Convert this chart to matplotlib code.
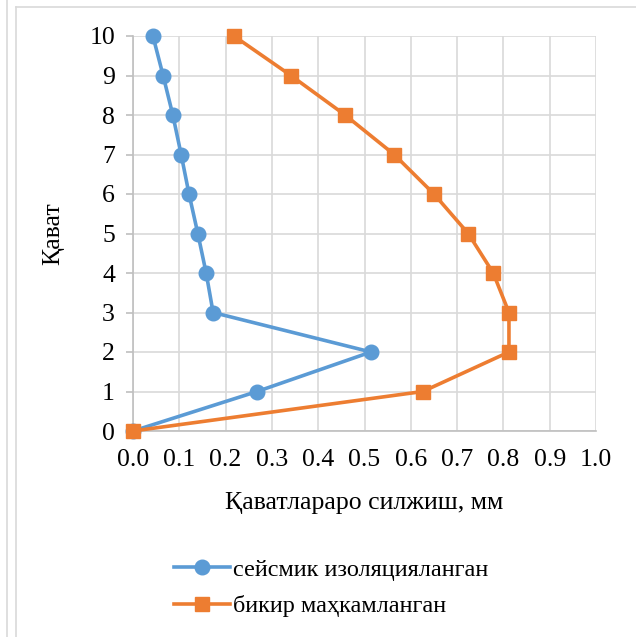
import matplotlib.pyplot as plt
from matplotlib.lines import Line2D

plt.rcParams['font.family'] = ['Liberation Serif', 'DejaVu Serif']

# storey numbers and inter-storey drift (mm)
floors = [0, 1, 2, 3, 4, 5, 6, 7, 8, 9, 10]
drift_isolated = [0.0, 0.268, 0.514, 0.173, 0.158, 0.140, 0.121, 0.104, 0.086, 0.065, 0.043]
drift_fixed = [0.0, 0.626, 0.812, 0.812, 0.778, 0.724, 0.650, 0.564, 0.458, 0.341, 0.218]

label_isolated = 'сейсмик изоляцияланган'
label_fixed = 'бикир маҳкамланган'

blue = '#5B9BD5'
orange = '#ED7D31'
grid_c = '#D9D9D9'
axis_c = '#BFBFBF'
fs = 18.5

fig = plt.figure(figsize=(6.36, 6.37), dpi=100)
ax = fig.add_axes([133/636, 1 - 431/637, (596 - 133)/636, (431 - 36)/637])

ax.plot(drift_isolated, floors, color=blue, lw=2.6, marker='o', ms=10.5,
        label=label_isolated, clip_on=False, zorder=3)
ax.plot(drift_fixed, floors, color=orange, lw=2.6, marker='s', ms=10.5,
        label=label_fixed, clip_on=False, zorder=3)

ax.set_xlim(0, 1.0)
ax.set_ylim(0, 10)
ax.set_xticks([i / 10 for i in range(11)])
ax.set_xticklabels([f'{i / 10:.1f}' for i in range(11)])
ax.set_yticks(range(11))

ax.grid(True, color=grid_c, lw=1.2)
ax.set_axisbelow(True)
for side in ['top', 'right']:
    ax.spines[side].set_visible(False)
for side in ['left', 'bottom']:
    ax.spines[side].set_color(axis_c)
    ax.spines[side].set_linewidth(1.2)

ax.tick_params(axis='y', length=5, color=axis_c, width=1.2, labelsize=fs, pad=8)
ax.tick_params(axis='x', length=0, labelsize=fs, pad=13)

ax.set_xlabel('Қаватлараро силжиш, мм', fontsize=fs, labelpad=15)
ax.set_ylabel('Қават', fontsize=fs, labelpad=18)

fig.legend(loc='center', bbox_to_anchor=(331/636, 1 - 588/637), frameon=False,
           fontsize=17.5, handlelength=2.3, labelspacing=0.6, handletextpad=0.15)

# outer frame lines
fig.add_artist(Line2D([7/636, 7/636], [0, 1], color=grid_c, lw=1.2, transform=fig.transFigure))
fig.add_artist(Line2D([16/636, 16/636], [0, 1 - 7/637], color=grid_c, lw=1.2, transform=fig.transFigure))
fig.add_artist(Line2D([16/636, 1], [1 - 7/637, 1 - 7/637], color=grid_c, lw=1.2, transform=fig.transFigure))

fig.savefig('out.png', dpi=100)
